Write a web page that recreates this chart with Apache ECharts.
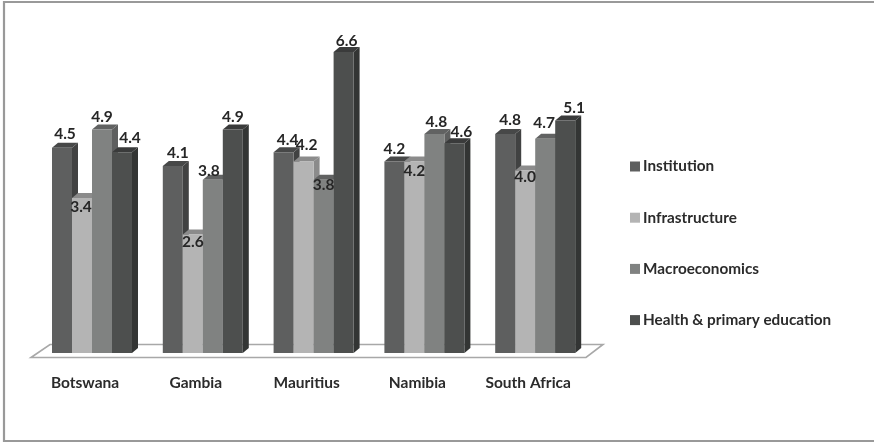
<!DOCTYPE html>
<html>
<head>
<meta charset="utf-8">
<style>html,body{margin:0;padding:0;background:#fff}#c{width:874px;height:442px}</style>
<script src="https://cdn.jsdelivr.net/npm/echarts@6/dist/echarts.min.js"></script>
</head>
<body>
<div id="c"></div>
<script>
const countries = ['Botswana', 'Gambia', 'Mauritius', 'Namibia', 'South Africa'];
const institution = [4.5, 4.1, 4.4, 4.2, 4.8];
const infrastructure = [3.4, 2.6, 4.2, 4.2, 4.0];
const macroeconomics = [4.9, 3.8, 3.8, 4.8, 4.7];
const healthEducation = [4.4, 4.9, 6.6, 4.6, 5.1];

// Hand placement of the value labels, per column: [dx, dy] from the top centre.
const institutionNudge = [[3, -14], [5, -13], [4, -12], [0, -12], [5, -14]];
const infrastructureNudge = [[-1, 9], [0, 8], [3, -16], [0, 10], [0, 6]];
const macroeconomicsNudge = [[0, -13], [-4, -9], [0, 5], [2, -12], [-1, -16]];
const healthEducationNudge = [[8, -14], [0, -13], [3, -11], [7, -11], [9, -12]];

// Each column: front, top and side face shades.
const shades = [
  { name: 'Institution', values: institution, nudge: institutionNudge, front: '#5e5f5f', top: '#474848', side: '#414242' },
  { name: 'Infrastructure', values: infrastructure, nudge: infrastructureNudge, front: '#b4b4b4', top: '#8b8b8b', side: '#8b8b8b' },
  { name: 'Macroeconomics', values: macroeconomics, nudge: macroeconomicsNudge, front: '#808281', top: '#616262', side: '#5e5f5f' },
  { name: 'Health & primary education', values: healthEducation, nudge: healthEducationNudge, front: '#4d4f4e', top: '#3a3b3b', side: '#333534' }
];

const COLUMN_W = 20, DEPTH_X = 6, DEPTH_Y = 5;

// Extruded column drawn from the axis scales.
function column3d(seriesIndex, shade) {
  return function (params, api) {
    const base = api.coord([api.value(0), 0]);
    const top = api.coord([api.value(0), api.value(1)]);
    const x = base[0] + (seriesIndex - 2) * COLUMN_W;
    const y0 = base[1], y1 = top[1];
    const nudge = shade.nudge[params.dataIndex];
    return {
      type: 'group',
      children: [
        { type: 'polygon', z2: seriesIndex * 3,
          shape: { points: [[x + COLUMN_W, y1], [x + COLUMN_W + DEPTH_X, y1 - DEPTH_Y], [x + COLUMN_W + DEPTH_X, y0 - DEPTH_Y], [x + COLUMN_W, y0]] },
          style: { fill: shade.side } },
        { type: 'polygon', z2: seriesIndex * 3,
          shape: { points: [[x, y1], [x + DEPTH_X, y1 - DEPTH_Y], [x + COLUMN_W + DEPTH_X, y1 - DEPTH_Y], [x + COLUMN_W, y1]] },
          style: { fill: shade.top } },
        { type: 'rect', z2: seriesIndex * 3 + 1,
          shape: { x: x, y: y1, width: COLUMN_W, height: y0 - y1 },
          style: { fill: shade.front } },
        { type: 'text', z2: 50,
          style: {
            x: x + COLUMN_W / 2 + nudge[0], y: y1 + nudge[1],
            text: api.value(1).toFixed(1), align: 'center', verticalAlign: 'middle',
            fill: '#262626', font: 'bold 15.5px Lato'
          } }
      ]
    };
  };
}

const chart = echarts.init(document.getElementById('c'), null, { renderer: 'canvas' });
chart.setOption({
  animation: false,
  backgroundColor: '#fff',
  grid: { left: 36.6, width: 554, top: 11, height: 342 },
  xAxis: {
    type: 'category',
    data: countries,
    axisLine: { show: false },
    axisTick: { show: false },
    axisLabel: { interval: 0, hideOverlap: false, color: '#2b2b2b', fontFamily: 'Lato', fontWeight: 'bold', fontSize: 15.5, margin: 22, padding: [0, 14, 0, 0] }
  },
  yAxis: { type: 'value', min: 0, max: 7.5, show: false },
  legend: {
    orient: 'vertical',
    left: 625,
    top: 154,
    itemWidth: 10,
    itemHeight: 10,
    itemGap: 36.2,
    icon: 'rect',
    selectedMode: false,
    textStyle: { color: '#2b2b2b', fontFamily: 'Lato', fontWeight: 'bold', fontSize: 15.3, padding: [0, 0, 0, -2] },
    data: shades.map(s => s.name)
  },
  graphic: [
    // Frame: top, left and bottom rules.
    { type: 'polyline', silent: true, z: 0,
      shape: { points: [[874, 2], [4, 2], [4, 441], [874, 441]] },
      style: { fill: 'none', stroke: '#999999', lineWidth: 2.2 } },
    // Floor slab under the columns.
    { type: 'polygon', silent: true, z: 0,
      shape: { points: [[31, 357.5], [50, 344.5], [603, 344.5], [586, 357.5]] },
      style: { fill: '#fff', stroke: '#a8a8a8', lineWidth: 1.6 } }
  ],
  series: shades.map((s, i) => ({
    type: 'custom',
    name: s.name,
    z: 5,
    itemStyle: { color: s.front },
    encode: { x: 0, y: 1 },
    data: countries.map((c, k) => [k, s.values[k]]),
    renderItem: column3d(i, s)
  }))
});
</script>
</body>
</html>
